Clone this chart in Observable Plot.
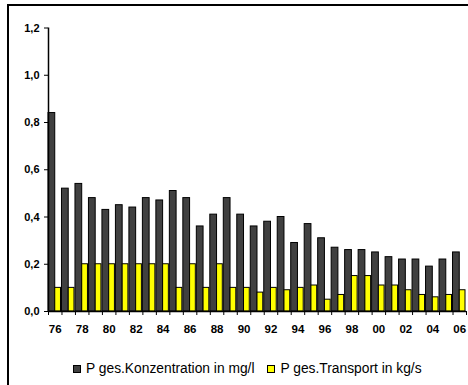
<!DOCTYPE html>
<html>
<head>
<meta charset="utf-8">
<script src="https://cdn.jsdelivr.net/npm/d3@7"></script>
<script src="https://cdn.jsdelivr.net/npm/@observablehq/plot@0.6"></script>
<style>
  html, body { margin: 0; padding: 0; background: #fff; }
  body { width: 468px; height: 385px; position: relative; overflow: hidden; font-family: Arial, "Liberation Sans", sans-serif; }
  #frame { position: absolute; left: 7px; top: 4px; right: 0; bottom: 0; border-left: 2px solid #000; border-top: 2px solid #000; }
  #chart { position: absolute; left: 0; top: 0; }
  #legend { position: absolute; left: 73px; top: 361px; display: flex; align-items: center; font-size: 13.8px; color: #000; white-space: nowrap; }
  .sw { width: 6px; height: 6px; border: 1px solid #000; display: inline-block; margin-right: 5px; }
  .item { display: flex; align-items: center; margin-right: 13px; }
</style>
</head>
<body>
<div id="frame"></div>
<div id="chart"></div>
<div id="legend"></div>
<script>
const years = ["76","77","78","79","80","81","82","83","84","85","86","87","88","89","90","91","92","93","94","95","96","97","98","99","00","01","02","03","04","05","06"];
const konzentration = [0.84,0.52,0.54,0.48,0.43,0.45,0.44,0.48,0.47,0.51,0.48,0.36,0.41,0.48,0.41,0.36,0.38,0.40,0.29,0.37,0.31,0.27,0.26,0.26,0.25,0.23,0.22,0.22,0.19,0.22,0.25];
const transport = [0.10,0.10,0.20,0.20,0.20,0.20,0.20,0.20,0.20,0.10,0.20,0.10,0.20,0.10,0.10,0.08,0.10,0.09,0.10,0.11,0.05,0.07,0.15,0.15,0.11,0.11,0.09,0.07,0.06,0.07,0.09];
const seriesNames = ["P ges.Konzentration in mg/l", "P ges.Transport in kg/s"];
const seriesColors = ["#404040", "#ffff00"];
const yTicks = [0, 0.2, 0.4, 0.6, 0.8, 1.0, 1.2];

const rowsK = years.map((y, i) => ({i, year: y, v: konzentration[i]}));
const rowsT = years.map((y, i) => ({i, year: y, v: transport[i]}));
const labelIdx = d3.range(0, years.length, 2);

const chart = Plot.plot({
  width: 468,
  height: 345,
  marginLeft: 48,
  marginRight: 2,
  marginTop: 27.5,
  marginBottom: 34,
  style: {fontFamily: "Arial, 'Liberation Sans', sans-serif", color: "#000", background: "transparent", overflow: "visible"},
  x: {type: "linear", domain: [0, years.length]},
  y: {domain: [0, 1.2]},
  marks: [
    Plot.rectY(rowsK, {x1: d => d.i, x2: d => d.i + 0.5, y: "v", fill: seriesColors[0], stroke: "#000", strokeWidth: 1}),
    Plot.rectY(rowsT, {x1: d => d.i + 0.5, x2: d => d.i + 1, y: "v", fill: seriesColors[1], stroke: "#000", strokeWidth: 1, insetRight: 1}),
    Plot.ruleY([0], {stroke: "#000", strokeWidth: 1.5}),
    Plot.ruleX([0], {stroke: "#000", strokeWidth: 1.5}),
    Plot.axisX(d3.range(0, years.length + 1), {tickSize: 4, tickFormat: () => "", label: null, stroke: "#000"}),
    Plot.axisX(labelIdx.map(i => i + 0.5), {tickSize: 0, tickPadding: 13, tickFormat: v => years[Math.round(v - 0.5)], label: null, fontWeight: "bold", fontSize: 11.5}),
    Plot.axisY(yTicks, {tickSize: 4, tickPadding: 5, tickFormat: d => d.toFixed(1).replace(".", ","), label: null, fontWeight: "bold", fontSize: 11, stroke: "#000"})
  ]
});
document.getElementById("chart").appendChild(chart);

const legend = document.getElementById("legend");
seriesNames.forEach((name, k) => {
  const item = document.createElement("span");
  item.className = "item";
  const sw = document.createElement("span");
  sw.className = "sw";
  sw.style.background = seriesColors[k];
  item.appendChild(sw);
  item.appendChild(document.createTextNode(name));
  legend.appendChild(item);
});
</script>
</body>
</html>
